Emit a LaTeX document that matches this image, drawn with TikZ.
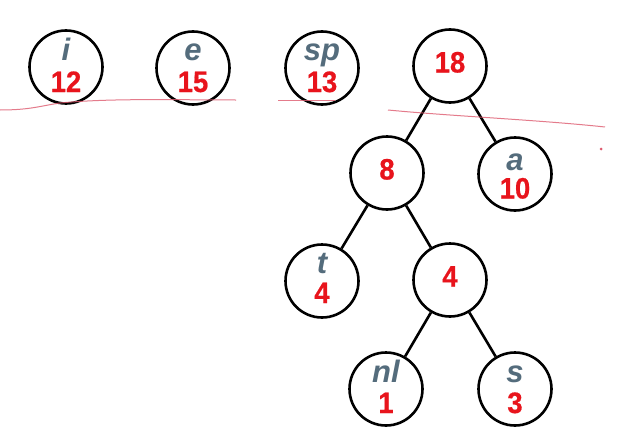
\documentclass[tikz,border=0pt]{standalone}
\usepackage{fontspec}
\setmainfont{Liberation Sans}
\newfontfamily\digitfont[FakeStretch=0.93,FakeBold=0.6]{Liberation Sans}
\begin{document}
\definecolor{numred}{RGB}{232,20,28}
\definecolor{symgray}{RGB}{84,108,124}
\definecolor{pen}{RGB}{222,90,110}
\begin{tikzpicture}[x=1pt,y=-1pt,
  hnode/.style={circle,draw,line width=2.6pt,minimum size=73pt,inner sep=0pt},
  sym/.style={anchor=base,text=symgray,font=\fontsize{31}{34}\selectfont\bfseries\itshape,inner sep=0pt},
  num/.style={anchor=base,text=numred,font=\digitfont\fontsize{29.5}{32}\selectfont\bfseries,inner sep=0pt},
  edge/.style={line width=2.6pt},
  ink/.style={pen,line width=1pt,opacity=0.8}]
\useasboundingbox (0,0) rectangle (627,447);
\fill[white] (0,0) rectangle (627,447);

% leaf and internal nodes
\node[hnode] (i)   at (66,67) {};
\node[hnode] (e)   at (193,68) {};
\node[hnode] (sp)  at (322,68) {};
\node[hnode] (n18) at (450,66) {};
\node[hnode] (n8)  at (387,173) {};
\node[hnode] (a)   at (515,174) {};
\node[hnode] (t)   at (322,281) {};
\node[hnode] (n4)  at (450,280) {};
\node[hnode] (nl)  at (386,389) {};
\node[hnode] (s)   at (515,389) {};

% symbols and weights
\node[sym] (li)  at ([yshift=7pt]i.center) {i};
\node[num] (wi)  at ([yshift=-25pt]i.center) {12};
\node[sym] (le)  at ([yshift=8pt]e.center) {e};
\node[num] (we)  at ([yshift=-24pt]e.center) {15};
\node[sym] (lsp) at ([yshift=8pt]sp.center) {sp};
\node[num] (wsp) at ([yshift=-24pt]sp.center) {13};
\node[num] (w18) at ([yshift=-6.5pt]n18.center) {18};
\node[num] (w8)  at ([yshift=-6.5pt]n8.center) {8};
\node[sym] (la)  at ([yshift=4pt]a.center) {a};
\node[num] (wa)  at ([yshift=-24.5pt]a.center) {10};
\node[sym] (lt)  at ([yshift=8pt]t.center) {t};
\node[num] (wt)  at ([yshift=-22pt]t.center) {4};
\node[num] (w4)  at ([yshift=-6.5pt]n4.center) {4};
\node[sym] (lnl) at ([yshift=7pt]nl.center) {nl};
\node[num] (wnl) at ([yshift=-24pt]nl.center) {1};
\node[sym] (ls)  at ([yshift=7pt]s.center) {s};
\node[num] (ws)  at ([yshift=-24pt]s.center) {3};

% tree edges
\draw[edge] (n18) -- (n8);
\draw[edge] (n18) -- (a);
\draw[edge] (n8) -- (t);
\draw[edge] (n8) -- (n4);
\draw[edge] (n4) -- (nl);
\draw[edge] (n4) -- (s);

% pen strokes
\draw[ink] (0,110) .. controls (30,110) and (40,106) .. (60,103) .. controls (110,98) and (180,100) .. (236,100);
\draw[ink] (278,100) -- (335,100);
\draw[ink] (388,110) .. controls (450,116) and (540,120) .. (605,127);
\fill[pen] (601,149) circle (1.5pt);
\end{tikzpicture}
\end{document}
